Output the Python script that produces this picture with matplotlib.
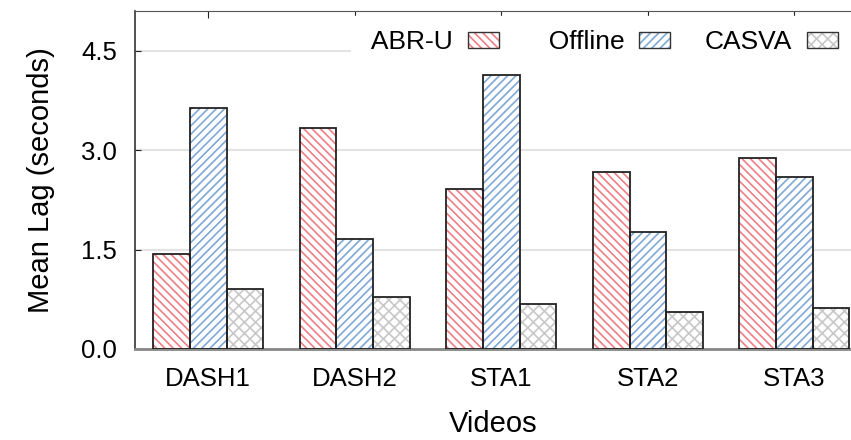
import matplotlib.pyplot as plt
import numpy as np
from matplotlib.patches import Patch
from matplotlib.legend_handler import HandlerTuple

plt.rcParams['font.family'] = ['Liberation Sans', 'DejaVu Sans']
plt.rcParams['hatch.linewidth'] = 1.2

videos = ['DASH1', 'DASH2', 'STA1', 'STA2', 'STA3']
abr_u = [1.43, 3.33, 2.41, 2.67, 2.88]
offline = [3.63, 1.66, 4.13, 1.76, 2.59]
casva = [0.90, 0.78, 0.68, 0.56, 0.62]

series = [
    ('ABR-U', abr_u, '#f07f84', '\\\\\\\\'),
    ('Offline', offline, '#7fa9d6', '////'),
    ('CASVA', casva, '#c8c8c8', 'xxx'),
]

fig = plt.figure(figsize=(8.51, 4.40), dpi=100)
ax = fig.add_axes([0.1586, 0.207, 0.842, 0.768])

x = np.arange(len(videos))
w = 0.25
handles = []
for i, (name, vals, col, hat) in enumerate(series):
    pos = x + (i - 1) * w
    # hatch layer, then a dark outline on top
    ax.bar(pos, vals, w, color='white', edgecolor=col, hatch=hat, linewidth=0, zorder=2)
    ax.bar(pos, vals, w, color='none', edgecolor='#222222', linewidth=1.3, zorder=3)
    h1 = Patch(facecolor='white', edgecolor=col, hatch=hat, linewidth=0)
    h2 = Patch(facecolor='none', edgecolor='#333333', linewidth=1.0)
    handles.append((h1, h2))

ax.set_xlim(-0.5, 4.39)
ax.set_ylim(0, 5.1)
ax.set_yticks([0, 1.5, 3.0, 4.5])
ax.set_yticklabels(['0.0', '1.5', '3.0', '4.5'])
ax.set_xticks(x)
ax.set_xticklabels(videos)
ax.yaxis.grid(True, color='#e3e3e3', linewidth=1.5, zorder=0)
ax.set_axisbelow(True)

ax.tick_params(axis='x', direction='in', top=True, bottom=True, length=5,
               labelsize=18.5, pad=13, color='#222222')
ax.tick_params(axis='y', direction='in', length=4, labelsize=18.5, pad=13, color='#222222')
ax.spines['right'].set_visible(False)
ax.spines['left'].set_color('#333333')
ax.spines['top'].set_color('#555555')
ax.spines['bottom'].set_color('#888888')
ax.spines['bottom'].set_linewidth(2)
ax.spines['left'].set_linewidth(1.2)

ax.set_ylabel('Mean Lag (seconds)', fontsize=21, labelpad=19)
ax.set_xlabel('Videos', fontsize=21, labelpad=14)

# leading spaces keep the key labels right-justified in equal columns
labels = [' ABR-U', '  Offline', 'CASVA']
leg = ax.legend(handles, labels, handler_map={tuple: HandlerTuple(ndivide=1)},
                ncol=3, loc='center right', bbox_to_anchor=(1.0, 0.908), frameon=True,
                fancybox=False, edgecolor='white', framealpha=1, markerfirst=False,
                fontsize=19, handlelength=1.15, handleheight=0.53, columnspacing=1.33,
                handletextpad=0.57, borderaxespad=0, borderpad=0.53)
leg.set_zorder(5)

fig.savefig('out.png', dpi=100)
